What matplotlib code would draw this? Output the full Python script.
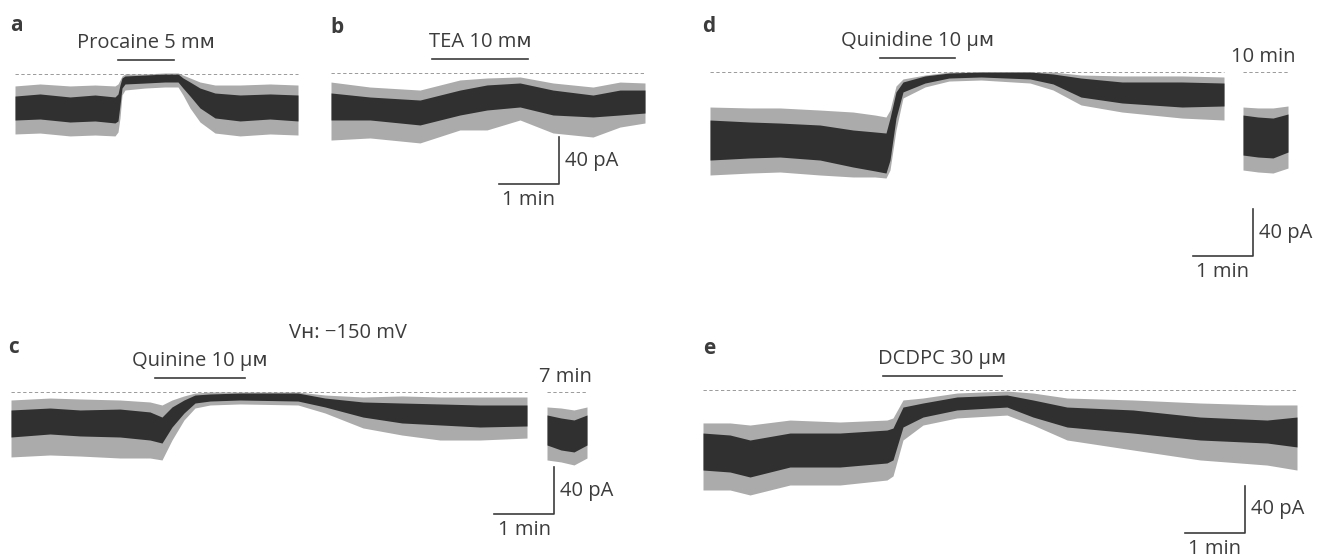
import matplotlib
matplotlib.use('Agg')
import matplotlib.pyplot as plt

plt.rcParams['font.family'] = ['Open Sans', 'DejaVu Sans']

#%% Data (time in s, current in pA relative to the dashed zero line)
# envelope of each noisy trace: hi/lo = dense core, top/bot = extent of the spikes
a_t = [0, 25, 55, 80, 100, 103, 105, 107, 110, 130, 150, 163, 168, 175, 185, 200, 225, 255, 283]
a_hi = [-19.0, -17.2, -19.8, -18.1, -19.8, -17.2, -9.5, -3.4, -1.7, -0.9, 0.0, 0.0, -3.4, -6.9, -12.1, -16.4, -18.1, -17.2, -18.1]
a_lo = [-39.7, -38.8, -41.4, -40.5, -42.2, -40.5, -26.7, -12.1, -8.6, -7.8, -6.9, -6.9, -12.1, -19.0, -29.3, -37.9, -40.5, -38.8, -40.5]
a_top = [-10.3, -8.6, -10.3, -9.5, -10.3, -8.6, -5.2, -1.7, 0.0, 0.0, 0.9, 0.9, -0.9, -3.4, -6.9, -9.5, -9.5, -8.6, -9.5]
a_bot = [-51.7, -50.9, -53.4, -52.6, -53.4, -50.0, -37.9, -18.1, -13.8, -12.1, -11.2, -11.2, -18.1, -29.3, -41.4, -50.9, -53.4, -51.7, -52.6]

b_t = [0, 39, 89, 129, 156, 189, 222, 262, 289, 314]
b_hi = [-17.2, -20.7, -23.3, -14.7, -10.3, -8.6, -14.7, -19.0, -14.7, -14.7]
b_lo = [-40.5, -40.5, -44.8, -36.2, -31.9, -29.3, -36.2, -37.9, -36.2, -34.5]
b_top = [-7.8, -12.1, -14.7, -6.0, -4.3, -3.4, -8.6, -12.1, -7.8, -8.6]
b_bot = [-57.8, -56.0, -60.3, -49.1, -49.1, -40.5, -51.7, -55.2, -46.6, -43.1]

c_t = [0, 39, 69, 109, 139, 151, 161, 173, 184, 199, 229, 287, 314, 352, 391, 429, 469, 516]
c_hi = [-15.5, -13.8, -15.5, -14.7, -17.2, -21.6, -12.9, -6.9, -2.6, -1.7, -0.9, -0.9, -5.2, -8.6, -9.5, -10.3, -11.2, -11.2]
c_lo = [-38.8, -36.2, -37.9, -38.8, -41.4, -44.0, -30.2, -18.1, -9.5, -7.8, -6.9, -7.8, -12.9, -21.6, -26.7, -28.4, -30.2, -29.3]
c_top = [-6.9, -5.2, -6.0, -6.9, -8.6, -11.2, -6.9, -3.4, -0.9, 0.0, 0.0, 0.0, -2.6, -4.3, -3.4, -4.3, -4.3, -4.3]
c_bot = [-56.0, -54.3, -55.2, -56.9, -56.9, -58.6, -41.4, -24.1, -13.8, -11.2, -10.3, -11.2, -18.1, -31.0, -37.1, -41.4, -41.4, -39.7]
# after the 7 min gap
c2_t = [536, 550, 563, 576]
c2_hi = [-19.8, -22.4, -24.1, -19.8]
c2_lo = [-45.7, -50.0, -51.7, -45.7]
c2_top = [-12.9, -13.8, -15.5, -12.9]
c2_bot = [-58.6, -60.3, -62.9, -56.9]

d_t = [0, 40, 70, 110, 143, 165, 176, 180, 186, 193, 215, 239, 271, 320, 343, 371, 412, 472, 514]
d_hi = [-41.4, -43.1, -44.0, -45.7, -50.0, -51.7, -52.6, -39.7, -17.2, -8.6, -3.4, -0.9, 0.0, 0.0, -1.7, -5.2, -8.6, -8.6, -9.5]
d_lo = [-75.9, -74.1, -73.3, -75.9, -81.9, -85.3, -87.1, -75.9, -39.7, -17.2, -9.5, -5.2, -4.3, -6.0, -10.3, -21.6, -26.7, -30.2, -29.3]
d_top = [-30.2, -31.0, -31.0, -32.8, -34.5, -37.1, -38.8, -32.8, -12.1, -6.0, -2.6, 0.0, 0.0, 0.0, 0.0, -2.6, -3.4, -3.4, -4.3]
d_bot = [-88.8, -87.1, -86.2, -88.8, -90.5, -90.5, -91.4, -84.5, -50.0, -22.4, -12.9, -7.8, -6.9, -9.5, -15.5, -28.4, -34.5, -39.7, -41.4]
# after the 10 min gap
d2_t = [533, 548, 563, 578]
d2_hi = [-37.1, -38.8, -39.7, -36.2]
d2_lo = [-71.6, -73.3, -74.1, -69.0]
d2_top = [-30.2, -31.0, -31.0, -29.3]
d2_bot = [-84.5, -86.2, -87.1, -82.8]

e_t = [0, 27, 47, 87, 137, 184, 190, 200, 220, 254, 304, 330, 364, 430, 497, 564, 594]
e_hi = [-37.1, -38.8, -43.1, -37.1, -37.1, -34.5, -32.8, -14.7, -11.2, -6.0, -4.3, -8.6, -14.7, -17.2, -23.3, -25.9, -23.3]
e_lo = [-69.0, -70.7, -75.0, -66.4, -66.4, -62.9, -60.3, -31.9, -23.3, -17.2, -14.7, -23.3, -31.9, -37.1, -43.1, -45.7, -49.1]
e_top = [-28.4, -28.4, -30.2, -25.9, -27.6, -25.9, -24.1, -8.6, -6.9, -2.6, -0.9, -2.6, -6.9, -8.6, -11.2, -12.9, -12.9]
e_bot = [-86.2, -86.2, -90.5, -81.9, -81.9, -77.6, -74.1, -43.1, -30.2, -24.1, -21.6, -30.2, -43.1, -51.7, -60.3, -64.7, -69.0]

# drug application periods (s)
drug_a = [103, 159]
drug_b = [101, 197]
drug_c = [144, 234]
drug_d = [170, 245]
drug_e = [180, 299]

#%% Layout
W, H = 1329, 557
PPS = 1.0    # px per s
PPA = 1.16   # px per pA
TRACE = '#303030'
SPIKE = '#ababab'
INK = '#3c3c3c'
FS = 14.5

fig = plt.figure(figsize=(W / 100, H / 100), dpi=100)


def panel(x0, y0):
    """transparent full-figure axes whose origin sits at pixel (x0, y0)"""
    ax = fig.add_axes([0, 0, 1, 1])
    ax.set_xlim(-x0 / PPS, (W - x0) / PPS)
    ax.set_ylim((y0 - H) / PPA, y0 / PPA)
    ax.axis('off')
    ax.patch.set_alpha(0)
    return ax


def trace(ax, t, hi, lo, top, bot):
    ax.fill_between(t, bot, top, color=SPIKE, lw=0)
    ax.fill_between(t, lo, hi, color=TRACE, lw=0)
    ax.plot([t[0], t[-1]], [0, 0], ls=(0, (4, 3)), lw=0.6, color='#8a8a8a')


def drug(ax, span, label):
    ax.plot(span, [12.5, 12.5], color=INK, lw=1.2)
    ax.text(sum(span) / 2, 26.5, label, ha='center', va='center',
            fontsize=FS, color=INK)


def letter(ax, s, x, y):
    ax.text(x, y, s, ha='left', va='center', fontsize=15,
            fontweight='bold', color=INK)


def scalebar(ax, tx, iy):
    ax.plot([tx - 60, tx, tx], [iy, iy, iy + 40], color=INK, lw=1.2)
    ax.text(tx + 6, iy + 20, '40 pA', ha='left', va='center',
            fontsize=FS, color=INK)
    ax.text(tx - 30, iy - 14, '1 min', ha='center', va='center',
            fontsize=FS, color=INK)


def gap(ax, t, label):
    ax.text((t[0] + t[-1]) / 2 - 2, 13, label, ha='center', va='center',
            fontsize=FS, color=INK)


# a
ax = panel(15, 74)
trace(ax, a_t, a_hi, a_lo, a_top, a_bot)
drug(ax, drug_a, 'Procaine 5 mᴍ')
letter(ax, 'a', -5, 42)

# b
ax = panel(331, 73)
trace(ax, b_t, b_hi, b_lo, b_top, b_bot)
drug(ax, drug_b, 'TEA 10 mᴍ')
letter(ax, 'b', -1, 39.5)
scalebar(ax, 228, -95.5)

# c
ax = panel(11, 392)
trace(ax, c_t, c_hi, c_lo, c_top, c_bot)
trace(ax, c2_t, c2_hi, c2_lo, c2_top, c2_bot)
drug(ax, drug_c, 'Quinine 10 μᴍ')
letter(ax, 'c', -3, 38)
gap(ax, c2_t, '7 min')
ax.text(337, 51, 'Vʜ: \u2212150 mV', ha='center', va='center',
        fontsize=FS, color=INK)
scalebar(ax, 543, -105)

# d
ax = panel(710, 72)
trace(ax, d_t, d_hi, d_lo, d_top, d_bot)
trace(ax, d2_t, d2_hi, d2_lo, d2_top, d2_bot)
drug(ax, drug_d, 'Quinidine 10 μᴍ')
letter(ax, 'd', -8, 39)
gap(ax, d2_t, '10 min')
scalebar(ax, 543, -158.5)

# e
ax = panel(703, 390)
trace(ax, e_t, e_hi, e_lo, e_top, e_bot)
drug(ax, drug_e, 'DCDPC 30 μᴍ')
letter(ax, 'e', 0, 36)
scalebar(ax, 542, -123)

fig.savefig('out.png', dpi=100)
